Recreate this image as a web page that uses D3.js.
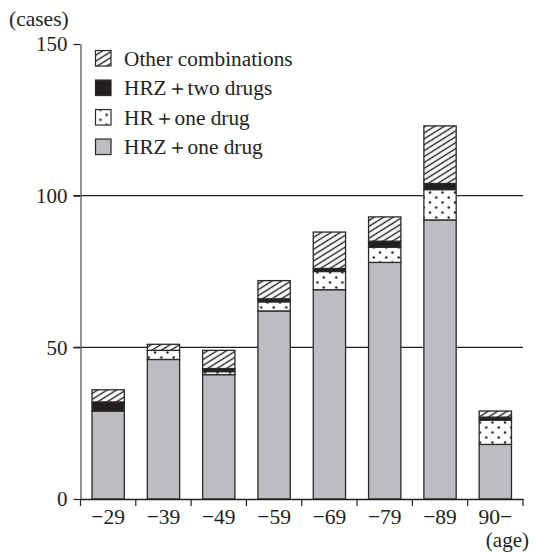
<!DOCTYPE html>
<html>
<head>
<meta charset="utf-8">
<script src="https://cdn.jsdelivr.net/npm/d3@7"></script>
<style>
  html, body { margin: 0; padding: 0; background: #fff; }
  svg text { font-family: "Liberation Serif", "Times New Roman", serif; fill: #231f20; }
</style>
</head>
<body>
<svg id="chart" width="541" height="553"></svg>
<script>
const categories = ["\u221229", "\u221239", "\u221249", "\u221259", "\u221269", "\u221279", "\u221289", "90\u2212"];
const seriesNames = ["HRZ\uFF0Bone drug", "HR\uFF0Bone drug", "HRZ\uFF0Btwo drugs", "Other combinations"];
const hrzOneDrug   = [29, 46, 41, 62, 69, 78, 92, 18];
const hrOneDrug    = [0, 3, 1, 3, 6, 5, 10, 8];
const hrzTwoDrugs  = [3, 0, 1, 1, 1, 2, 2, 1];
const otherCombos  = [4, 2, 6, 6, 12, 8, 19, 2];
const yTicks = [0, 50, 100, 150];
const gridValues = [50, 100];

const svg = d3.select("#chart");
const defs = svg.append("defs");

// hatch pattern
const hatch = defs.append("pattern")
  .attr("id", "hatch").attr("patternUnits", "userSpaceOnUse")
  .attr("width", 8).attr("height", 5)
  .attr("patternTransform", "rotate(-32)");
hatch.append("rect").attr("width", 8).attr("height", 5).attr("fill", "#fff");
hatch.append("line").attr("x1", 0).attr("x2", 8).attr("y1", 2.5).attr("y2", 2.5)
  .attr("stroke", "#231f20").attr("stroke-width", 1.4);

// dots pattern
const dots = defs.append("pattern")
  .attr("id", "dots").attr("patternUnits", "userSpaceOnUse")
  .attr("width", 12.5).attr("height", 10).attr("x", 2).attr("y", 0);
dots.append("rect").attr("width", 12.5).attr("height", 10).attr("fill", "#fff");
dots.append("circle").attr("cx", 3).attr("cy", 2.5).attr("r", 1.2).attr("fill", "#231f20");
dots.append("circle").attr("cx", 9.25).attr("cy", 7.5).attr("r", 1.2).attr("fill", "#231f20");

const fills = ["#bcbdc1", "url(#dots)", "#231f20", "url(#hatch)"];

const x0 = 80.5, x1 = 523, yBottom = 499, yTop = 44;
const x = d3.scaleBand().domain(categories).range([x0, x1]).paddingInner(0.416).paddingOuter(0.208);
const y = d3.scaleLinear().domain([0, 150]).range([yBottom, yTop]);

const rows = categories.map((c, i) => ({
  cat: c,
  [seriesNames[0]]: hrzOneDrug[i],
  [seriesNames[1]]: hrOneDrug[i],
  [seriesNames[2]]: hrzTwoDrugs[i],
  [seriesNames[3]]: otherCombos[i]
}));
const stacked = d3.stack().keys(seriesNames)(rows);

// gridlines
svg.append("g").selectAll("line").data(gridValues).join("line")
  .attr("x1", x0 - 7).attr("x2", x1)
  .attr("y1", d => y(d)).attr("y2", d => y(d))
  .attr("stroke", "#231f20").attr("stroke-width", 1.2);

// bars
svg.append("g").selectAll("g").data(stacked).join("g")
  .attr("fill", (d, i) => fills[i])
  .selectAll("rect").data(d => d.filter(p => p[1] - p[0] > 0)).join("rect")
  .attr("x", d => x(d.data.cat))
  .attr("width", x.bandwidth())
  .attr("y", d => y(d[1]))
  .attr("height", d => y(d[0]) - y(d[1]))
  .attr("stroke", "#2a2a2a").attr("stroke-width", 1.3);

// y axis
const yAxis = svg.append("g").attr("transform", `translate(${x0},0)`)
  .call(d3.axisLeft(y).tickValues(yTicks).tickSize(7).tickPadding(6).tickSizeOuter(0));
yAxis.select(".domain").attr("stroke", "#6d6e70").attr("stroke-width", 1.5);
yAxis.selectAll(".tick line").attr("stroke", "#231f20").attr("stroke-width", 1.2);
yAxis.selectAll("text").style("font-size", "21px").attr("fill", "#231f20");

// x axis
const xAxis = svg.append("g").attr("transform", `translate(0,${yBottom})`)
  .call(d3.axisBottom(x).tickSize(0).tickPadding(10).tickSizeOuter(0));
xAxis.select(".domain").attr("stroke", "#231f20").attr("stroke-width", 1.3);
xAxis.selectAll("text").style("font-size", "21.5px").attr("fill", "#231f20");
// boundary ticks
xAxis.append("g").selectAll("line").data(d3.range(categories.length + 1)).join("line")
  .attr("x1", i => x0 + i * x.step()).attr("x2", i => x0 + i * x.step())
  .attr("y1", 0).attr("y2", 7)
  .attr("stroke", "#231f20").attr("stroke-width", 1.2);

// axis titles
svg.append("text").attr("x", 9).attr("y", 26).style("font-size", "21.5px").text("(cases)");
svg.append("text").attr("x", 529).attr("y", 547).attr("text-anchor", "end").style("font-size", "21px").text("(age)");

// legend
const legendOrder = [3, 2, 1, 0];
const lg = svg.append("g").selectAll("g").data(legendOrder).join("g")
  .attr("transform", (d, i) => `translate(95.5,${58.3 + i * 29.5})`);
lg.append("rect").attr("x", 0).attr("y", -7.75).attr("width", 15.5).attr("height", 15.5)
  .attr("fill", d => fills[d]).attr("stroke", "#2a2a2a").attr("stroke-width", 1.2);
lg.append("text").attr("x", 28.5).attr("y", 0).attr("dy", "0.35em")
  .style("font-size", "21.3px").text(d => seriesNames[d]);
</script>
</body>
</html>
